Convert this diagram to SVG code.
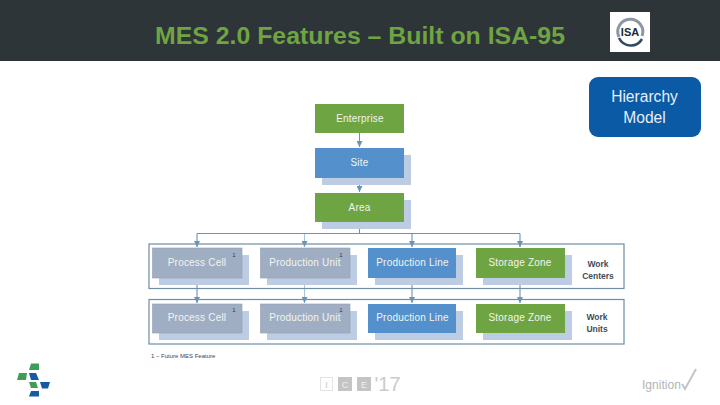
<svg xmlns="http://www.w3.org/2000/svg" width="720" height="405" viewBox="0 0 720 405">
<style>
.sh{fill:#bccde3}
.g{fill:#6fa443}
.b{fill:#5490cc}
.y{fill:#a0aec4;stroke:#8f9cb0;stroke-width:.6}
.t{font-family:"Liberation Sans",Arial,sans-serif;font-size:10px;fill:#f1f5ee;text-anchor:middle;letter-spacing:.2px}
.s{font-family:"Liberation Sans",Arial,sans-serif;font-size:6px;fill:#2f3a44;text-anchor:middle}
.w{font-family:"Liberation Sans",Arial,sans-serif;font-size:8.5px;fill:#3f4c58;text-anchor:middle}
.f{fill:#fff;stroke:#6e8ea6;stroke-width:1.2}
.c{fill:none;stroke:#6a93b8;stroke-width:1.1}
.h{font-family:"Liberation Sans",Arial,sans-serif;font-size:15.6px;fill:#e6eef6;text-anchor:middle}
.l{font-family:"Liberation Sans",Arial,sans-serif}
</style>
<defs>
<marker id="a" markerUnits="userSpaceOnUse" markerWidth="8" markerHeight="6" refX="6" refY="3" orient="auto"><path d="M0 0L6 3L0 6Z" fill="#6a93b8"/></marker>
</defs>
<rect width="720" height="405" fill="#fff"/>
<g id="header">
<rect width="720" height="61" fill="#2d3538"/>
<text class="l" x="360" y="44" font-size="23.500" font-weight="700" fill="#6fa443" text-anchor="middle" textLength="410" lengthAdjust="spacingAndGlyphs">MES 2.0 Features – Built on ISA-95</text>
</g>
<g id="isa-logo">
<rect x="610" y="12" width="40" height="40" fill="#fff"/>
<path d="M619 37A12.500 12.500 0 1 1 642 36" fill="none" stroke="#8d97a3" stroke-width="3"/>
<path d="M619 38A13 13 0 0 0 642 39" fill="none" stroke="#2f4b66" stroke-width="2.500"/>
<text class="l" x="630" y="36" font-size="11" font-weight="700" fill="#1d2a38" text-anchor="middle">ISA</text>
</g>
<g id="hierarchy-model">
<rect x="589" y="77" width="112" height="60" rx="9" fill="#0b5aa6"/>
<text class="h" x="644.500" y="102">Hierarchy</text>
<text class="h" x="644.500" y="123">Model</text>
</g>
<g id="frame-work-centers"><rect class="f" x="149" y="244" width="475" height="44.500"/>
<text class="w" x="598" y="267" font-weight="700">Work</text><text class="w" x="598" y="279" font-weight="700">Centers</text></g>
<g id="frame-work-units"><rect class="f" x="149" y="299.500" width="475" height="44.500"/>
<text class="w" x="597" y="320" font-weight="700">Work</text><text class="w" x="597" y="332" font-weight="700">Units</text></g>
<g id="connectors">
<path class="c" d="M359.500 133V147" marker-end="url(#a)"/>
<path class="c" d="M359.500 178V192" marker-end="url(#a)"/>
<path class="c" d="M359.500 222V233.500M197 233.500H520"/>
<path class="c" d="M197 233.500V247" marker-end="url(#a)"/>
<path class="c" d="M304.500 233.500V247" marker-end="url(#a)" stroke-opacity=".55"/>
<path class="c" d="M412 233.500V247" marker-end="url(#a)"/>
<path class="c" d="M520 233.500V247" marker-end="url(#a)"/>
<path class="c" d="M197 278V303" marker-end="url(#a)"/>
<path class="c" d="M304.500 278V303" marker-end="url(#a)" stroke-opacity=".55"/>
<path class="c" d="M412 278V303" marker-end="url(#a)"/>
<path class="c" d="M520 278V303" marker-end="url(#a)"/>
</g>
<g id="enterprise"><rect class="g" x="315" y="104" width="89" height="29"/><text class="t" x="360" y="122">Enterprise</text></g>
<g id="site"><rect class="sh" x="322" y="155" width="89" height="30"/><rect class="b" x="315" y="148" width="89" height="30"/><text class="t" x="359.500" y="166">Site</text></g>
<g id="area"><rect class="sh" x="322" y="200" width="89" height="29"/><rect class="g" x="315" y="193" width="89" height="29"/><text class="t" x="359.500" y="211">Area</text></g>
<g id="process-cell-1"><rect class="sh" x="159" y="255" width="90" height="30"/><rect class="y" x="152.500" y="248" width="89.500" height="30"/><text class="t" x="197" y="266">Process Cell</text><text class="s" x="234" y="257">1</text></g>
<g id="production-unit-1"><rect class="sh" x="267" y="255" width="90" height="30"/><rect class="y" x="260.500" y="248" width="89.500" height="30"/><text class="t" x="305" y="266">Production Unit</text><text class="s" x="341" y="257">1</text></g>
<g id="production-line-1"><rect class="sh" x="375" y="255" width="88" height="30"/><rect class="b" x="368" y="248" width="88" height="30"/><text class="t" x="412.500" y="266">Production Line</text></g>
<g id="storage-zone-1"><rect class="sh" x="483" y="255" width="89" height="30"/><rect class="g" x="476" y="248" width="89" height="30"/><text class="t" x="520" y="266">Storage Zone</text></g>
<g id="process-cell-2"><rect class="sh" x="159" y="311" width="90" height="29"/><rect class="y" x="152.500" y="304" width="89.500" height="29"/><text class="t" x="197" y="321">Process Cell</text><text class="s" x="234" y="312">1</text></g>
<g id="production-unit-2"><rect class="sh" x="267" y="311" width="90" height="29"/><rect class="y" x="260.500" y="304" width="89.500" height="29"/><text class="t" x="305" y="321">Production Unit</text><text class="s" x="341" y="312">1</text></g>
<g id="production-line-2"><rect class="sh" x="375" y="311" width="88" height="29"/><rect class="b" x="368" y="304" width="88" height="29"/><text class="t" x="412.500" y="321">Production Line</text></g>
<g id="storage-zone-2"><rect class="sh" x="483" y="311" width="89" height="29"/><rect class="g" x="476" y="304" width="89" height="29"/><text class="t" x="520" y="321">Storage Zone</text></g>
<text class="l" x="151" y="358" font-size="6" fill="#3a4652">1 – Future MES Feature</text>
<g id="left-logo">
<path fill="#3f9d57" d="M31 363.500H39V370H29ZM19 373H27L26 380H17ZM29 382H36L38 388H31Z"/>
<path fill="#155ba3" d="M29 373H36L39 380H31ZM40 382H50L48 388.500H42ZM31 391H39V396.500H29Z"/>
</g>
<g id="ice-logo" fill="#c4c4c4">
<rect x="320.500" y="377.500" width="12" height="13" fill="#fff" stroke="#e3e3e3"/>
<rect x="338" y="377" width="14" height="14"/>
<rect x="357" y="377" width="14" height="14"/>
<text class="l" x="326.500" y="388" font-size="9" fill="#c9c9c9" text-anchor="middle">I</text>
<text class="l" x="345" y="388" font-size="9" fill="#efefef" text-anchor="middle">C</text>
<text class="l" x="364" y="388" font-size="9" fill="#efefef" text-anchor="middle">E</text>
<text class="l" x="387.500" y="391" font-size="20" fill="#cbcbcb" text-anchor="middle">'17</text>
</g>
<g id="ignition-logo">
<text class="l" x="642" y="389" font-size="13.500" fill="#b4b4b4" textLength="39" lengthAdjust="spacingAndGlyphs">Ignition</text>
<path d="M682 384L685 389L696 369" fill="none" stroke="#c4c4c4" stroke-width="2"/>
</g>
</svg>
